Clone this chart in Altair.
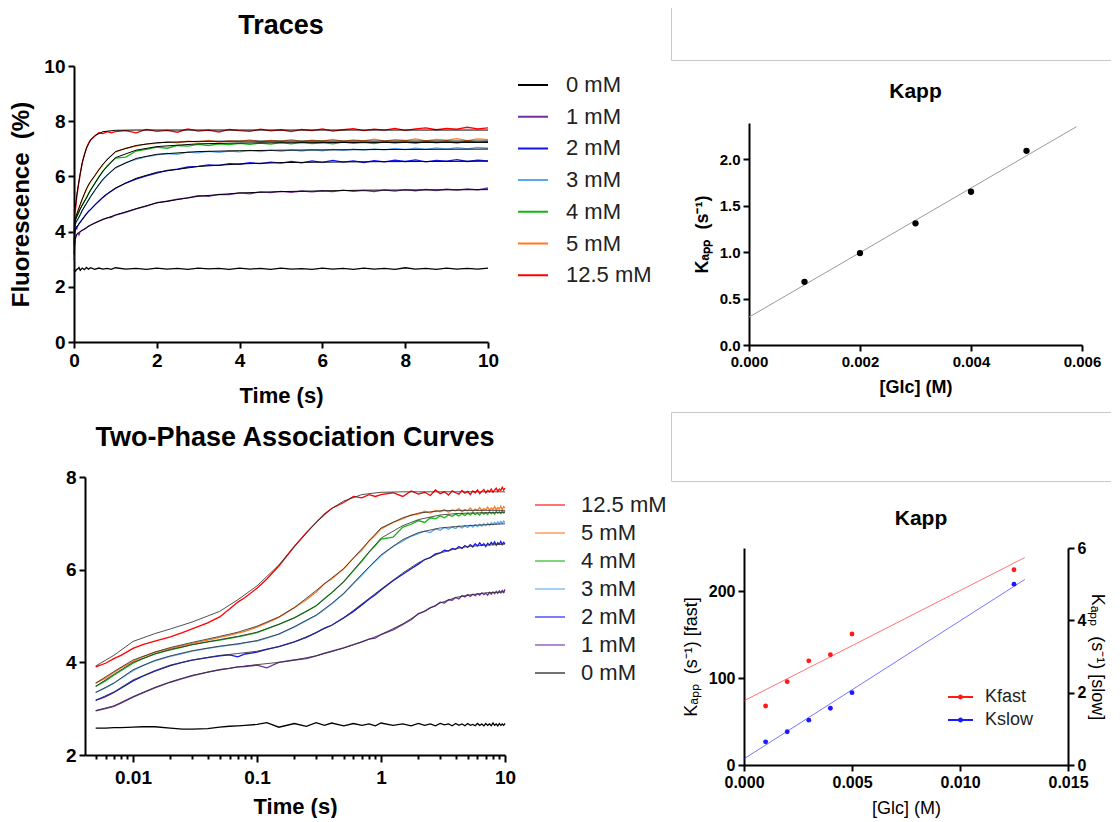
import altair as alt
import pandas as pd

FONT = "Liberation Sans"

# ---------------- data ----------------
CONC = ["0 mM", "1 mM", "2 mM", "3 mM", "4 mM", "5 mM", "12.5 mM"]
COLORS = ["#000000", "#7030a0", "#1414ee", "#5aa8f0", "#14b414", "#ff7a22", "#ff0000"]
CONC_REV = ["12.5 mM", "5 mM", "4 mM", "3 mM", "2 mM", "1 mM", "0 mM"]
COLORS_REV = ["#ff0000", "#ff7a22", "#14b414", "#5aa8f0", "#1414ee", "#7030a0", "#000000"]

T_TRACE = [0.005, 0.006, 0.007, 0.008, 0.01, 0.012, 0.015, 0.02, 0.025, 0.03, 0.04, 0.05, 0.06, 0.07,
           0.08, 0.1, 0.12, 0.15, 0.2, 0.25, 0.3, 0.35, 0.4, 0.5, 0.6, 0.7, 0.8, 0.9,
           1.0, 1.25, 1.5, 1.75, 2.0, 2.25, 2.5, 2.75, 3.0, 3.25, 3.5, 3.75, 4.0, 4.25, 4.5, 4.75,
           5.0, 5.25, 5.5, 5.75, 6.0, 6.25, 6.5, 6.75, 7.0, 7.25, 7.5, 7.75, 8.0, 8.25, 8.5, 8.75,
           9.0, 9.25, 9.5, 9.75, 10.0]

TR_0 = [2.58, 2.58, 2.59, 2.59, 2.60, 2.61, 2.61, 2.58, 2.56, 2.56, 2.57, 2.60, 2.62, 2.63,
        2.64, 2.66, 2.70, 2.60, 2.68, 2.62, 2.70, 2.64, 2.69, 2.63, 2.68, 2.64, 2.67, 2.63,
        2.69, 2.64, 2.67, 2.63, 2.68, 2.64, 2.67, 2.63, 2.68, 2.65, 2.67, 2.63, 2.68, 2.64, 2.67, 2.63,
        2.68, 2.64, 2.66, 2.63, 2.68, 2.64, 2.67, 2.63, 2.68, 2.64, 2.67, 2.63, 2.69, 2.64, 2.67, 2.63,
        2.68, 2.64, 2.67, 2.64, 2.68]
TR_1 = [2.95, 3.00, 3.05, 3.12, 3.25, 3.34, 3.45, 3.57, 3.65, 3.71, 3.79, 3.84, 3.87, 3.90,
        3.91, 3.94, 3.88, 4.00, 4.05, 4.08, 4.14, 4.20, 4.24, 4.31, 4.38, 4.44, 4.50, 4.52,
        4.60, 4.70, 4.82, 4.92, 5.05, 5.10, 5.18, 5.22, 5.30, 5.28, 5.35, 5.34, 5.40, 5.37, 5.44, 5.41,
        5.46, 5.42, 5.47, 5.44, 5.48, 5.45, 5.50, 5.46, 5.49, 5.45, 5.51, 5.47, 5.52, 5.48, 5.53, 5.49,
        5.54, 5.50, 5.55, 5.51, 5.58]
TR_2 = [3.18, 3.26, 3.35, 3.44, 3.60, 3.70, 3.81, 3.93, 4.00, 4.05, 4.10, 4.14, 4.16, 4.12,
        4.18, 4.22, 4.28, 4.34, 4.44, 4.54, 4.64, 4.74, 4.80, 4.96, 5.10, 5.24, 5.36, 5.46,
        5.56, 5.76, 5.90, 6.02, 6.12, 6.22, 6.26, 6.34, 6.36, 6.42, 6.40, 6.46, 6.44, 6.50, 6.46, 6.52,
        6.48, 6.54, 6.49, 6.56, 6.51, 6.58, 6.52, 6.56, 6.50, 6.57, 6.53, 6.59, 6.54, 6.60, 6.53, 6.58,
        6.55, 6.61, 6.54, 6.59, 6.56]
TR_3 = [3.35, 3.45, 3.55, 3.65, 3.82, 3.93, 4.03, 4.13, 4.19, 4.24, 4.30, 4.34, 4.37, 4.39,
        4.42, 4.46, 4.52, 4.61, 4.76, 4.90, 5.01, 5.14, 5.26, 5.48, 5.70, 5.88, 6.05, 6.18,
        6.30, 6.50, 6.62, 6.72, 6.78, 6.83, 6.80, 6.88, 6.85, 6.91, 6.87, 6.92, 6.89, 6.94, 6.90, 6.95,
        6.91, 6.96, 6.92, 6.97, 6.93, 6.98, 6.94, 6.99, 6.95, 7.00, 6.96, 7.01, 6.97, 7.02, 6.98, 7.03,
        6.99, 7.04, 7.00, 7.05, 7.02]
TR_4 = [3.48, 3.60, 3.72, 3.82, 3.98, 4.08, 4.18, 4.27, 4.33, 4.38, 4.44, 4.48, 4.52, 4.55,
        4.58, 4.64, 4.72, 4.82, 4.96, 5.10, 5.22, 5.38, 5.50, 5.74, 5.98, 6.18, 6.38, 6.52,
        6.66, 6.70, 6.92, 6.98, 7.06, 7.02, 7.12, 7.10, 7.16, 7.12, 7.18, 7.15, 7.20, 7.16, 7.21, 7.17,
        7.22, 7.18, 7.23, 7.19, 7.22, 7.18, 7.24, 7.20, 7.23, 7.19, 7.25, 7.21, 7.24, 7.20, 7.26, 7.22,
        7.25, 7.21, 7.27, 7.23, 7.26]
TR_5 = [3.55, 3.66, 3.78, 3.88, 4.02, 4.12, 4.22, 4.30, 4.36, 4.41, 4.48, 4.54, 4.58, 4.63,
        4.67, 4.76, 4.85, 4.97, 5.18, 5.35, 5.52, 5.70, 5.80, 6.02, 6.25, 6.42, 6.62, 6.75,
        6.88, 7.02, 7.10, 7.18, 7.20, 7.26, 7.22, 7.28, 7.25, 7.30, 7.24, 7.29, 7.27, 7.32, 7.25, 7.30,
        7.27, 7.33, 7.26, 7.31, 7.28, 7.34, 7.27, 7.32, 7.29, 7.35, 7.28, 7.33, 7.30, 7.36, 7.29, 7.34,
        7.31, 7.37, 7.30, 7.36, 7.33]
TR_125 = [3.90, 3.98, 4.08, 4.15, 4.30, 4.38, 4.46, 4.55, 4.64, 4.72, 4.85, 4.98, 5.15, 5.30,
          5.40, 5.60, 5.80, 6.08, 6.50, 6.80, 7.02, 7.20, 7.32, 7.45, 7.58, 7.55, 7.62, 7.58,
          7.62, 7.66, 7.58, 7.70, 7.63, 7.67, 7.60, 7.72, 7.64, 7.68, 7.61, 7.70, 7.66, 7.63, 7.71, 7.65,
          7.69, 7.62, 7.70, 7.66, 7.72, 7.64, 7.69, 7.73, 7.66, 7.71, 7.68, 7.74, 7.67, 7.72, 7.76, 7.69,
          7.74, 7.71, 7.78, 7.72, 7.76]
TRACES = [TR_0, TR_1, TR_2, TR_3, TR_4, TR_5, TR_125]

T_FIT = [0.005, 0.007, 0.01, 0.015, 0.02, 0.03, 0.05, 0.07, 0.1, 0.15, 0.2, 0.3, 0.4, 0.5, 0.7,
         1, 1.5, 2, 3, 4, 5, 7, 10]
FIT_1 = [2.96, 3.06, 3.26, 3.46, 3.58, 3.72, 3.84, 3.90, 3.95, 4.00, 4.05, 4.14, 4.23, 4.31, 4.44,
         4.60, 4.83, 5.04, 5.28, 5.40, 5.45, 5.50, 5.52]
FIT_2 = [3.18, 3.36, 3.62, 3.82, 3.94, 4.05, 4.15, 4.19, 4.24, 4.34, 4.44, 4.64, 4.80, 4.96, 5.26,
         5.58, 5.93, 6.15, 6.36, 6.45, 6.50, 6.53, 6.55]
FIT_3 = [3.35, 3.55, 3.84, 4.04, 4.14, 4.25, 4.35, 4.40, 4.47, 4.61, 4.77, 5.02, 5.27, 5.49, 5.90,
         6.32, 6.65, 6.80, 6.90, 6.93, 6.95, 6.97, 6.99]
FIT_4 = [3.48, 3.74, 4.00, 4.18, 4.28, 4.38, 4.49, 4.56, 4.65, 4.82, 4.96, 5.22, 5.50, 5.74, 6.20,
         6.68, 6.95, 7.08, 7.18, 7.21, 7.22, 7.23, 7.23]
FIT_5 = [3.55, 3.80, 4.05, 4.22, 4.32, 4.43, 4.56, 4.65, 4.78, 4.98, 5.18, 5.55, 5.82, 6.02, 6.45,
         6.90, 7.12, 7.22, 7.27, 7.28, 7.28, 7.28, 7.28]
FIT_125 = [3.92, 4.15, 4.45, 4.62, 4.72, 4.87, 5.10, 5.35, 5.65, 6.10, 6.50, 7.02, 7.32, 7.48, 7.62,
           7.67, 7.68, 7.68, 7.68, 7.68, 7.68, 7.68, 7.68]
FIT_NAMES = ["1 mM", "2 mM", "3 mM", "4 mM", "5 mM", "12.5 mM"]
FITS = [FIT_1, FIT_2, FIT_3, FIT_4, FIT_5, FIT_125]

LIN_TICKS = [0, 2, 4, 6, 8, 10]
LOG_TICKS = [0.005, 0.006, 0.007, 0.008, 0.009, 0.01, 0.02, 0.03, 0.04, 0.05, 0.06, 0.07, 0.08,
             0.09, 0.1, 0.2, 0.3, 0.4, 0.5, 0.6, 0.7, 0.8, 0.9, 1, 2, 3, 4, 5, 6, 7, 8, 9, 10]
LOG_Y_TICKS = [2, 4, 6, 8]

# Kapp (single)
B_GLC = [0.001, 0.002, 0.003, 0.004, 0.005]
B_K = [0.68, 0.99, 1.31, 1.65, 2.09]
B_FIT_GLC = [0.0, 0.0059]
B_FIT_K = [0.30, 2.35]
B_X_TICKS = [0.0, 0.002, 0.004, 0.006]
B_Y_TICKS = [0.0, 0.5, 1.0, 1.5, 2.0]

# Kapp (fast / slow)
D_GLC = [0.001, 0.002, 0.003, 0.004, 0.005, 0.0125]
D_FAST = [68, 96, 120, 127, 151, 225]
D_SLOW = [0.64, 0.92, 1.24, 1.57, 2.00, 5.00]
D_FIT_GLC = [0.0, 0.013]
D_FAST_FIT = [74, 239]
D_SLOW_FIT = [0.17, 5.13]
D_X_TICKS = [0.0, 0.005, 0.010, 0.015]
D_FAST_TICKS = [0, 100, 200]
D_SLOW_TICKS = [0, 2, 4, 6]

KAPP_LABEL = "K\u2090\u209a\u209a\u00a0\u00a0(s\u207b\u00b9)"


def long_df(ts, names, series):
    frames = [pd.DataFrame({"t": ts, "v": vals, "c": name}) for name, vals in zip(names, series)]
    return pd.concat(frames, ignore_index=True)


traces = long_df(T_TRACE, CONC, TRACES)
fits = long_df(T_FIT, FIT_NAMES, FITS)


def axis(title, values, fmt, lsize, tsize, tweight="bold", lweight="bold", **kw):
    opts = dict(title=title, values=values, format=fmt, grid=False, domainColor="black",
                domainWidth=2, tickColor="black", tickWidth=2, tickSize=6, labelFont=FONT,
                labelFontSize=lsize, labelFontWeight=lweight, labelColor="black",
                labelFlush=False, labelOverlap=False, labelPadding=3, titleFont=FONT,
                titleFontSize=tsize, titleFontWeight=tweight, titleColor="black")
    opts.update(kw)
    return alt.Axis(**opts)


def ttl(text, size, offset, dx=0):
    return alt.TitleParams(text, font=FONT, fontSize=size, fontWeight="bold", color="black",
                           anchor="middle", frame="group", offset=offset, dx=dx)


def blank(w, h, stroke=""):
    c = alt.Chart(pd.DataFrame({"s": [0]})).mark_point(opacity=0, size=1).encode(
        x=alt.X("s:Q", axis=None), y=alt.Y("s:Q", axis=None)).properties(width=w, height=h)
    if stroke:
        c = c.properties(view=alt.ViewBackground(stroke=stroke, strokeWidth=1))
    return c


def cat(*charts, columns, spacing):
    return alt.concat(*charts, columns=columns, spacing=spacing, align="none").resolve_scale(
        color="independent")


# ---------------- Panel A : Traces ----------------
legA = alt.Legend(title=None, orient="none", legendX=443, legendY=8, direction="vertical",
                  symbolType="stroke", symbolSize=900, symbolStrokeWidth=2, labelFont=FONT,
                  labelFontSize=22, labelColor="#222222", labelOffset=17, clipHeight=22,
                  rowPadding=9.7, padding=0)
xA = alt.X("t:Q", scale=alt.Scale(domain=[0, 10], nice=False),
           axis=axis("Time (s)", LIN_TICKS, "d", 19, 22, titlePadding=15))
yA = alt.Y("v:Q", scale=alt.Scale(domain=[0, 10], nice=False),
           axis=axis("Fluorescence\u00a0\u00a0(%)", LIN_TICKS, "d", 19, 24, titlePadding=10))
A_tr = alt.Chart(traces).mark_line(strokeWidth=1.3).encode(
    x=xA, y=yA, color=alt.Color("c:N", scale=alt.Scale(domain=CONC, range=COLORS), legend=legA))
A_fit = alt.Chart(fits).mark_line(strokeWidth=1, color="black").encode(
    x="t:Q", y="v:Q", detail="c:N")
A = alt.layer(A_tr, A_fit).properties(width=414, height=276, title=ttl("Traces", 27, 17))

# ---------------- Panel C : Two-phase (log) ----------------
is_decade = "abs(log(datum.value)/LN10 - round(log(datum.value)/LN10)) < 0.01"
legC = alt.Legend(title=None, orient="none", legendX=449, legendY=17, direction="vertical",
                  symbolType="stroke", symbolSize=900, symbolStrokeWidth=2, symbolOpacity=0.55,
                  labelFont=FONT, labelFontSize=22, labelColor="#222222", labelOffset=15,
                  clipHeight=22, rowPadding=6, padding=0)
xC = alt.X("t:Q", scale=alt.Scale(type="log", domain=[0.0041, 10], nice=False),
           axis=axis("Time (s)", LOG_TICKS, "~g", 19, 22, titlePadding=9, labelPadding=6,
                     labelExpr=is_decade + " ? datum.label : ''",
                     tickSize={"condition": {"test": is_decade, "value": 7}, "value": 4}))
yC = alt.Y("v:Q", scale=alt.Scale(domain=[2, 8], nice=False),
           axis=axis(None, LOG_Y_TICKS, "d", 19, 22))
C_tr = alt.Chart(traces).mark_line(strokeWidth=1.3).encode(
    x=xC, y=yC, color=alt.Color("c:N", scale=alt.Scale(domain=CONC_REV, range=COLORS_REV),
                                legend=legC))
C_fit = alt.Chart(fits).mark_line(strokeWidth=1, color="#333333", opacity=0.85).encode(
    x="t:Q", y="v:Q", detail="c:N")
C = alt.layer(C_tr, C_fit).properties(width=420, height=278,
                                      title=ttl("Two-Phase Association Curves", 27, 16))

# ---------------- Panel B : Kapp ----------------
xB = alt.X("x:Q", scale=alt.Scale(domain=[0, 0.006], nice=False),
           axis=axis("[Glc] (M)", B_X_TICKS, ".3f", 15, 18, titlePadding=9))
yB = alt.Y("y:Q", scale=alt.Scale(domain=[0, 2.39], nice=False),
           axis=axis(KAPP_LABEL, B_Y_TICKS, ".1f", 15, 18, titlePadding=8))
B_line = alt.Chart(pd.DataFrame({"x": B_FIT_GLC, "y": B_FIT_K})).mark_line(
    color="#9a9a9a", strokeWidth=1).encode(x=xB, y=yB)
B_pts = alt.Chart(pd.DataFrame({"x": B_GLC, "y": B_K})).mark_circle(
    size=40, color="black", opacity=1).encode(x="x:Q", y="y:Q")
B = alt.layer(B_line, B_pts).properties(width=333, height=222, title=ttl("Kapp", 21, 21))

# ---------------- Panel D : Kapp fast / slow ----------------
legD = alt.Legend(title=None, orient="none", legendX=203, legendY=140, direction="vertical",
                  symbolType="M-1,0H1M-0.12,0A0.12,0.12 0 1,0 0.12,0A0.12,0.12 0 1,0 -0.12,0",
                  symbolSize=625, symbolStrokeWidth=2, symbolOpacity=1, labelFont=FONT,
                  labelFontSize=18, labelColor="#222222", labelOffset=11, clipHeight=18,
                  rowPadding=5, padding=0)
colD = alt.Color("k:N", scale=alt.Scale(domain=["Kfast", "Kslow"], range=["#ff1a1a", "#1a1aff"]),
                 legend=legD)
xD = alt.X("x:Q", scale=alt.Scale(domain=[0, 0.015], nice=False),
           axis=axis("[Glc] (M)", D_X_TICKS, ".3f", 16, 18, tweight="normal", titlePadding=9))
yDL = alt.Y("y:Q", scale=alt.Scale(domain=[0, 250], nice=False),
            axis=axis(KAPP_LABEL + " [fast]", D_FAST_TICKS, "d", 16, 18, tweight="normal",
                      titlePadding=8))
yDR = alt.Y("y:Q", scale=alt.Scale(domain=[0, 6], nice=False),
            axis=axis(KAPP_LABEL + " [slow]", D_SLOW_TICKS, "d", 16, 18, tweight="normal",
                      orient="right", titlePadding=2))
fast_fit = pd.DataFrame({"x": D_FIT_GLC, "y": D_FAST_FIT, "k": "Kfast"})
fast_pts = pd.DataFrame({"x": D_GLC, "y": D_FAST, "k": "Kfast"})
slow_fit = pd.DataFrame({"x": D_FIT_GLC, "y": D_SLOW_FIT, "k": "Kslow"})
slow_pts = pd.DataFrame({"x": D_GLC, "y": D_SLOW, "k": "Kslow"})
D_left = alt.layer(
    alt.Chart(fast_fit).mark_line(strokeWidth=1, opacity=0.6).encode(x=xD, y=yDL, color=colD),
    alt.Chart(fast_pts).mark_circle(size=24, opacity=1).encode(x="x:Q", y="y:Q", color=colD),
)
D_right = alt.layer(
    alt.Chart(slow_fit).mark_line(strokeWidth=1, opacity=0.6).encode(x="x:Q", y=yDR, color=colD),
    alt.Chart(slow_pts).mark_circle(size=24, opacity=1).encode(x="x:Q", y="y:Q", color=colD),
)
D = alt.layer(D_left, D_right).resolve_scale(y="independent").properties(
    width=324, height=217, title=ttl("Kapp", 21, 11, dx=15))

# ---------------- layout ----------------
BOX = "#c8c8c8"
Cwrap = cat(blank(1, 1), C, columns=2, spacing=-12)
AC = cat(A, Cwrap, columns=1, spacing=16)
left = cat(blank(1, 1), AC, columns=1, spacing=3)
Bwrap = cat(blank(1, 1), B, columns=2, spacing=19)
Dwrap = cat(blank(1, 1), D, columns=2, spacing=8)
upperR = cat(blank(441, 54, BOX), Bwrap, columns=1, spacing=19)
lowerR = cat(blank(441, 69, BOX), Dwrap, columns=1, spacing=25)
right = cat(upperR, lowerR, columns=1, spacing=14)

chart = cat(left, right, columns=2, spacing=2).properties(
    padding={"left": 1, "top": -3, "right": -2, "bottom": 0}
).configure(font=FONT).configure_view(stroke="transparent")

chart.save("out.html", embed_options={"renderer": "svg", "actions": False})
